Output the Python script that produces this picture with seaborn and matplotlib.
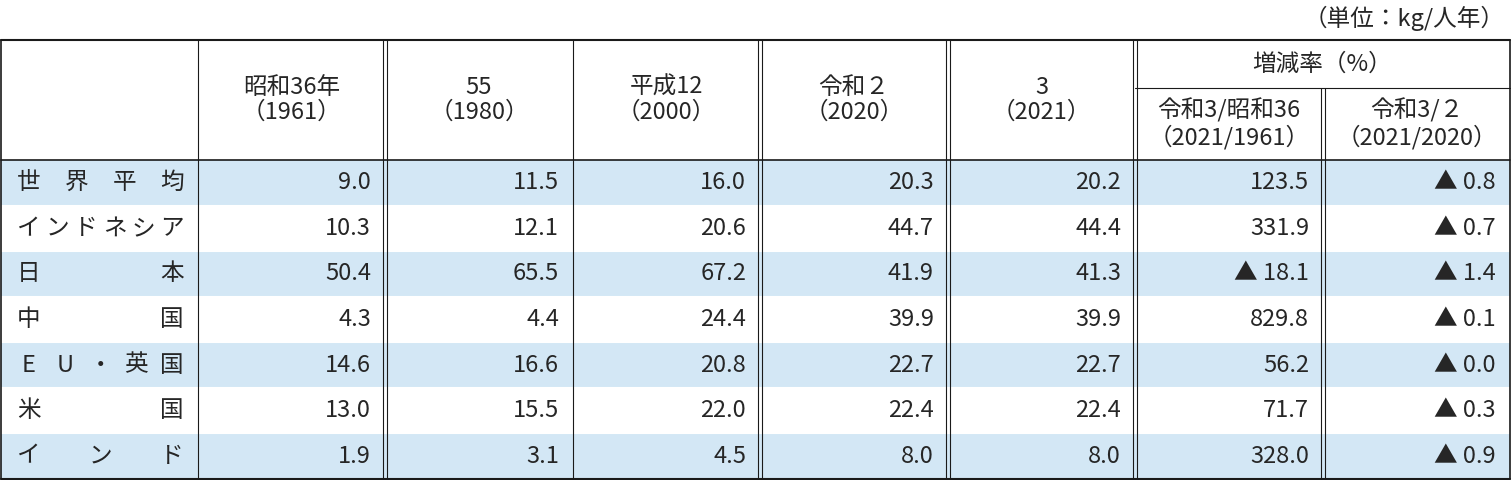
import matplotlib
matplotlib.use("Agg")
import matplotlib.pyplot as plt
import seaborn as sns

sns.set_theme(style="white")
plt.rcParams["font.family"] = "Noto Sans CJK JP"

countries = ["世界平均", "インドネシア", "日本", "中国", "EU・英国", "米国", "インド"]
v1961 = ["9.0", "10.3", "50.4", "4.3", "14.6", "13.0", "1.9"]
v1980 = ["11.5", "12.1", "65.5", "4.4", "16.6", "15.5", "3.1"]
v2000 = ["16.0", "20.6", "67.2", "24.4", "20.8", "22.0", "4.5"]
v2020 = ["20.3", "44.7", "41.9", "39.9", "22.7", "22.4", "8.0"]
v2021 = ["20.2", "44.4", "41.3", "39.9", "22.7", "22.4", "8.0"]
rate_long = ["123.5", "331.9", "▲ 18.1", "829.8", "56.2", "71.7", "328.0"]
rate_short = ["▲ 0.8", "▲ 0.7", "▲ 1.4", "▲ 0.1", "▲ 0.0", "▲ 0.3", "▲ 0.9"]
headers = ["昭和36年\n（1961）", "55\n（1980）", "平成12\n（2000）", "令和２\n（2020）", "3\n（2021）"]
sub_headers = ["令和3/昭和36\n（2021/1961）", "令和3/２\n（2021/2020）"]

fig = plt.figure(figsize=(15.12, 4.8), dpi=100)
ax = fig.add_axes([0, 0, 1, 1])
ax.set_xlim(0, 1512); ax.set_ylim(480, 0); ax.axis("off")

xs = [1, 198, 385, 573, 760, 948, 1135, 1323, 1510]
top, sub, hb = 40, 88, 160
rh = (479 - hb) / 7
fs = 17
blue = "#d3e7f5"

for i in range(7):
    y0 = hb + i * rh
    if i % 2 == 0:
        ax.add_patch(plt.Rectangle((1, y0), 1509, rh, color=blue, lw=0, zorder=0))
ax.plot([1, 1510], [top, top], color="k", lw=1.5)
ax.plot([1135, 1510], [sub, sub], color="k", lw=0.8)
ax.plot([1, 1510], [hb, hb], color="k", lw=1.2)
ax.plot([1, 1510], [479, 479], color="k", lw=1.5)
for i in range(1, 7):
    ax.plot([1, 1510], [hb + i * rh] * 2, color="white", lw=1.5)
doubles = {385, 760, 948, 1135, 1323}
for x in xs:
    y_start = sub if x == 1323 else top
    if x in doubles:
        for dx in (-2, 2):
            ax.plot([x + dx, x + dx], [y_start, 479], color="k", lw=0.8)
    else:
        ax.plot([x, x], [y_start, 479], color="k", lw=1.2 if x in (1, 1510) else 0.8)

ax.text(1505, 18, "（単位：kg/人年）", ha="right", va="center", fontsize=fs)
for j, h in enumerate(headers):
    ax.text((xs[j + 1] + xs[j + 2]) / 2, 100, h, ha="center", va="center", fontsize=fs, linespacing=1.1)
ax.text((1135 + 1510) / 2, 64, "増減率（%）", ha="center", va="center", fontsize=fs)
for j, h in enumerate(sub_headers):
    ax.text((xs[j + 6] + xs[j + 7]) / 2, 124, h, ha="center", va="center", fontsize=fs, linespacing=1.1)

cols = [v1961, v1980, v2000, v2020, v2021, rate_long, rate_short]
for i in range(7):
    yc = hb + (i + 0.5) * rh
    name = countries[i]
    n = len(name)
    x0, x1 = 29, 172
    for k, ch in enumerate(name):
        ax.text(x0 + (x1 - x0) * k / (n - 1), yc, ch, ha="center", va="center", fontsize=fs)
    for j, col in enumerate(cols):
        ax.text(xs[j + 2] - 14, yc, col[i], ha="right", va="center", fontsize=fs)

fig.savefig("out.png", dpi=100)
